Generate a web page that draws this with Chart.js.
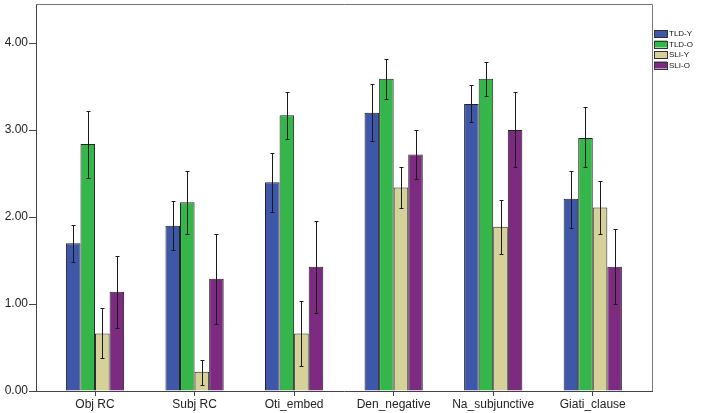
<!DOCTYPE html>
<html>
<head>
<meta charset="utf-8">
<script src="https://cdn.jsdelivr.net/npm/chart.js@4/dist/chart.umd.min.js"></script>
<style>
  html, body { margin: 0; padding: 0; background: #fff; }
  #wrap { width: 708px; height: 413px; }
</style>
</head>
<body>
<div id="wrap"><canvas id="barChart" width="708" height="413"></canvas></div>
<script>
// categories and series (means, with error bar ends)
const categories = ['Obj RC', 'Subj RC', 'Oti_embed', 'Den_negative', 'Na_subjunctive', 'Giati_clause'];
const seriesNames = ['TLD-Y', 'TLD-O', 'SLI-Y', 'SLI-O'];

const tldY     = [1.70, 1.90, 2.40, 3.20, 3.30, 2.21];
const tldYLow  = [1.48, 1.62, 2.06, 2.88, 3.09, 1.87];
const tldYHigh = [1.91, 2.18, 2.74, 3.53, 3.52, 2.53];

const tldO     = [2.84, 2.17, 3.17, 3.59, 3.59, 2.91];
const tldOLow  = [2.45, 1.80, 2.90, 3.36, 3.39, 2.58];
const tldOHigh = [3.22, 2.53, 3.44, 3.82, 3.78, 3.26];

const sliY     = [0.66, 0.22, 0.66, 2.34, 1.89, 2.11];
const sliYLow  = [0.38, 0.07, 0.29, 2.10, 1.58, 1.80];
const sliYHigh = [0.95, 0.36, 1.04, 2.57, 2.20, 2.42];

const sliO     = [1.14, 1.29, 1.43, 2.72, 3.00, 1.43];
const sliOLow  = [0.73, 0.77, 0.90, 2.44, 2.57, 1.00];
const sliOHigh = [1.55, 1.81, 1.96, 3.00, 3.44, 1.86];

const yTicks = [0, 1, 2, 3, 4];

const colors = ['#3f57a9', '#35b64a', '#d6d099', '#7d2a81'];
const means = [tldY, tldO, sliY, sliO];
const lows = [tldYLow, tldOLow, sliYLow, sliOLow];
const highs = [tldYHigh, tldOHigh, sliYHigh, sliOHigh];

const FONT = "'Liberation Sans', Arial, sans-serif";

const datasets = seriesNames.map((name, s) => ({
    label: name,
    data: means[s].map((v, i) => ({ x: i, y: v, lo: lows[s][i], hi: highs[s][i] })),
    backgroundColor: colors[s],
    borderColor: '#222',
    borderWidth: 1,
    categoryPercentage: 0.585,
    barPercentage: 1.0
}));

// error bars
const errorBars = {
    id: 'errorBars',
    afterDatasetsDraw(chart) {
        const ctx = chart.ctx;
        const y = chart.scales.y;
        ctx.save();
        ctx.strokeStyle = '#1a1a1a';
        ctx.lineWidth = 1;
        chart.data.datasets.forEach((ds, s) => {
            const meta = chart.getDatasetMeta(s);
            meta.data.forEach((bar, i) => {
                const px = Math.round(bar.x) + 0.5;
                const yh = Math.round(y.getPixelForValue(ds.data[i].hi)) + 0.5;
                const yl = Math.round(y.getPixelForValue(ds.data[i].lo)) + 0.5;
                ctx.beginPath();
                ctx.moveTo(px, yh); ctx.lineTo(px, yl);
                ctx.moveTo(px - 2, yh); ctx.lineTo(px + 2, yh);
                ctx.moveTo(px - 2, yl); ctx.lineTo(px + 2, yl);
                ctx.stroke();
            });
        });
        ctx.restore();
    }
};

// top/right frame and legend
const frameAndLegend = {
    id: 'frameAndLegend',
    afterDraw(chart) {
        const ctx = chart.ctx;
        const a = chart.chartArea;
        ctx.save();
        ctx.strokeStyle = '#777';
        ctx.lineWidth = 1;
        ctx.beginPath();
        ctx.moveTo(a.left, a.top + 0.5); ctx.lineTo(a.right + 0.5, a.top + 0.5);
        ctx.lineTo(a.right + 0.5, a.bottom);
        ctx.stroke();

        ctx.font = '8px ' + FONT;
        ctx.textBaseline = 'middle';
        ctx.fillStyle = '#111';
        chart.data.datasets.forEach((ds, s) => {
            const top = 30 + s * 10.5;
            ctx.fillStyle = ds.backgroundColor;
            ctx.fillRect(654, top, 13, 7);
            ctx.strokeStyle = '#333';
            ctx.strokeRect(654.5, Math.round(top) + 0.5, 13, 7);
            ctx.fillStyle = '#111';
            ctx.fillText(ds.label, 669, top + 4);
        });
        ctx.restore();
    }
};

new Chart(document.getElementById('barChart'), {
    type: 'bar',
    data: { datasets: datasets },
    options: {
        responsive: false,
        animation: false,
        layout: { padding: { top: 4, right: 56, left: 0, bottom: 0 } },
        plugins: {
            legend: { display: false },
            tooltip: { enabled: false }
        },
        scales: {
            x: {
                type: 'linear',
                min: -0.593,
                max: 5.595,
                offset: false,
                afterFit: (scale) => { scale.height = 22; },
                afterBuildTicks: (scale) => {
                    scale.ticks = categories.map((c, i) => ({ value: i }));
                },
                ticks: {
                    autoSkip: false,
                    maxRotation: 0,
                    padding: 1,
                    color: '#222',
                    font: { family: FONT, size: 12 },
                    callback: (v) => categories[v]
                },
                grid: { drawOnChartArea: false, drawTicks: true, tickLength: 5, color: '#444', offset: false },
                border: { display: true, color: '#444' }
            },
            y: {
                min: 0,
                max: 4.45,
                afterFit: (scale) => {
                    scale.width = 36;
                    scale.paddingTop = 0;
                    scale.paddingBottom = 0;
                },
                afterBuildTicks: (scale) => {
                    scale.ticks = yTicks.map(v => ({ value: v }));
                },
                ticks: {
                    padding: 1,
                    color: '#222',
                    font: { family: FONT, size: 12 },
                    callback: (v) => Number(v).toFixed(2)
                },
                grid: { drawOnChartArea: false, drawTicks: true, tickLength: 7, color: '#444' },
                border: { display: true, color: '#444' }
            }
        }
    },
    plugins: [errorBars, frameAndLegend]
});
</script>
</body>
</html>
